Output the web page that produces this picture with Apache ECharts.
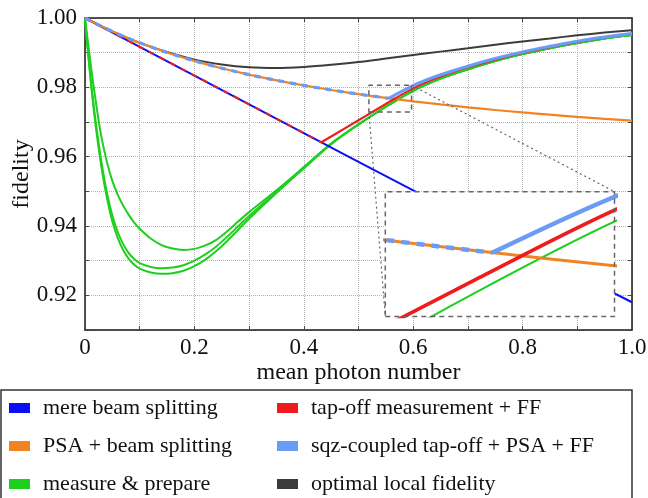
<!DOCTYPE html>
<html><head><meta charset="utf-8">
<script src="https://cdn.jsdelivr.net/npm/echarts/dist/echarts.min.js"></script>
<style>html,body{margin:0;padding:0;background:#fff}#c{width:648px;height:498px}</style>
</head><body><div id="c"></div>
<script>
// ---- tick labels ----
const xTickLabels = ['0','0.2','0.4','0.6','0.8','1.0'];
const yTickLabels = ['0.92','0.94','0.96','0.98','1.00'];
// ---- legend names ----
const legendCol1 = ['mere beam splitting','PSA + beam splitting','measure & prepare'];
const legendCol2 = ['tap-off measurement + FF','sqz-coupled tap-off + PSA + FF','optimal local fidelity'];
// ---- series values [mean photon number, fidelity] ----
const mereBeamSplitting = [[0,1],[0.1,0.9917],[0.2,0.9834],[0.3,0.9751],[0.4,0.9668],[0.5,0.9585],[0.6,0.9503],[0.7,0.9421],[0.8,0.934],[0.9,0.926],[1.0,0.918]];
const psaBeamSplitting = [[0,1],[0.025,0.99797],[0.05,0.99611],[0.075,0.99441],[0.1,0.99284],[0.15,0.99004],[0.2,0.98763],[0.25,0.98552],[0.3,0.98366],[0.35,0.98202],[0.4,0.98055],[0.45,0.97923],[0.5,0.97804],[0.55,0.97695],[0.6,0.97597],[0.65,0.97506],[0.7,0.97423],[0.75,0.97347],[0.8,0.97276],[0.85,0.9721],[0.9,0.97149],[0.95,0.97092],[1.0,0.9704]];
const measurePrepareA = [[0,1],[0.0025,0.9967],[0.005,0.9935],[0.01,0.9872],[0.015,0.9812],[0.02,0.9756],[0.025,0.9704],[0.03,0.9657],[0.04,0.9585],[0.05,0.953],[0.06,0.949],[0.07,0.9458],[0.08,0.9432],[0.09,0.941],[0.1,0.9392],[0.12,0.9364],[0.14,0.9345],[0.16,0.9335],[0.18,0.9331],[0.2,0.9334],[0.22,0.9344],[0.24,0.936],[0.26,0.9385],[0.28,0.9413],[0.3,0.944],[0.35,0.9503],[0.4,0.957],[0.45,0.9638],[0.5,0.9693],[0.55,0.9744],[0.6,0.979],[0.65,0.9825],[0.7,0.9852],[0.75,0.9876],[0.8,0.9896],[0.85,0.9913],[0.9,0.9928],[0.95,0.9941],[1.0,0.9951]];
const measurePrepareB = [[0,1],[0.0025,0.9955],[0.005,0.9912],[0.01,0.9832],[0.015,0.976],[0.02,0.9695],[0.03,0.9585],[0.04,0.9497],[0.05,0.943],[0.06,0.9382],[0.07,0.9347],[0.08,0.9322],[0.09,0.9305],[0.1,0.9293],[0.12,0.9282],[0.14,0.9278],[0.16,0.928],[0.18,0.9287],[0.2,0.93],[0.22,0.9318],[0.24,0.9341],[0.26,0.9369],[0.28,0.9399],[0.3,0.9429],[0.35,0.9499],[0.4,0.9568],[0.45,0.9637],[0.5,0.9693],[0.55,0.9744],[0.6,0.979],[0.65,0.9825],[0.7,0.9852],[0.75,0.9876],[0.8,0.9896],[0.85,0.9913],[0.9,0.9928],[0.95,0.9941],[1.0,0.9951]];
const measurePrepareC = [[0,1],[0.0025,0.9953],[0.005,0.9908],[0.01,0.9825],[0.015,0.975],[0.02,0.9683],[0.03,0.957],[0.04,0.9481],[0.05,0.9413],[0.06,0.9365],[0.07,0.933],[0.08,0.9305],[0.09,0.9288],[0.1,0.9277],[0.12,0.9266],[0.14,0.9262],[0.16,0.9264],[0.18,0.9271],[0.2,0.9284],[0.22,0.9303],[0.24,0.9328],[0.26,0.9357],[0.28,0.9389],[0.3,0.9421],[0.35,0.9495],[0.4,0.9566],[0.45,0.9636],[0.5,0.9693],[0.55,0.9744],[0.6,0.979],[0.65,0.9825],[0.7,0.9852],[0.75,0.9876],[0.8,0.9896],[0.85,0.9913],[0.9,0.9928],[0.95,0.9941],[1.0,0.9951]];
const tapOffBefore = [[0,1],[0.1,0.9917],[0.2,0.9834],[0.3,0.9751],[0.4,0.9668],[0.432,0.96415]];
const tapOffAfter = [[0.432,0.96415],[0.45,0.9658],[0.5,0.9705],[0.55,0.9752],[0.6,0.9797],[0.65,0.9831],[0.7,0.9858],[0.75,0.988],[0.8,0.99],[0.85,0.9916],[0.9,0.9931],[0.95,0.9944],[1.0,0.9954]];
const sqzBefore = [[0,1],[0.025,0.99797],[0.05,0.99611],[0.075,0.99441],[0.1,0.99284],[0.15,0.99004],[0.2,0.98763],[0.25,0.98552],[0.3,0.98366],[0.35,0.98202],[0.4,0.98055],[0.45,0.97923],[0.5,0.97804],[0.55,0.97695],[0.5555,0.97684]];
const sqzAfter = [[0.5555,0.97684],[0.6,0.9805],[0.65,0.9836],[0.7,0.9861],[0.75,0.9883],[0.8,0.9902],[0.85,0.9918],[0.9,0.9933],[0.95,0.9945],[1.0,0.9955]];
const optimalLocal = [[0,1],[0.05,0.99611],[0.1,0.99284],[0.15,0.9902],[0.2,0.988],[0.25,0.9866],[0.3,0.9858],[0.35,0.9856],[0.4,0.9859],[0.45,0.9865],[0.5,0.9873],[0.55,0.9883],[0.6,0.9893],[0.65,0.9903],[0.7,0.9913],[0.75,0.9923],[0.8,0.9932],[0.85,0.9941],[0.9,0.995],[0.95,0.9958],[1.0,0.9965]];
// ---- zoom region and inset placement (data coordinates of main axes) ----
const zoomX = [0.519, 0.597];
const zoomY = [0.9729, 0.9806];
const insetX = [0.549, 0.968];
const insetY = [0.9139, 0.9499];

const FONT = 'Liberation Serif';
const C = {blue:'#0a10f5', orange:'#f28322', green:'#1fcf1f', red:'#ee1c1c', lb:'#6a9cf6', black:'#3c3c3c'};

function labelFor(list, v) {
  for (const s of list) if (Math.abs(parseFloat(s) - v) < 1e-6) return s;
  return '';
}
function ln(name, data, color, width, extra) {
  return Object.assign({
    type:'line', name:name, data:data, symbol:'none', silent:true, smooth:0.3,
    lineStyle:{color:color, width:width, type:'solid'}, itemStyle:{color:color},
    xAxisIndex:0, yAxisIndex:0, z:2
  }, extra || {});
}
const axisLineStyle = {color:'#1a1a1a', width:1.5};
const tickStyle = {show:true, inside:true, length:4, lineStyle:{color:'#444', width:1}};
const splitStyle = {show:true, lineStyle:{color:'#b3b3b3', type:'dotted', width:1}};

const chart = echarts.init(document.getElementById('c'));
const legendBase = {
  orient:'vertical', top:397, itemWidth:21, itemHeight:10, itemGap:16, icon:'rect',
  padding:0, selectedMode:false,
  textStyle:{fontFamily:FONT, fontSize:22, color:'#111', lineHeight:22, padding:[0,0,0,8]}
};
const inset = {xAxisIndex:2, yAxisIndex:2, z:10, smooth:0.3};
const option = {
  animation:false,
  grid:[
    {left:85, top:18, width:547, height:312, containLabel:false, outerBoundsMode:'none'},
    {left:386, top:192, width:229, height:125, show:true, backgroundColor:'#fff', borderWidth:0, z:5, containLabel:false, outerBoundsMode:'none'}
  ],
  xAxis:[
    {gridIndex:0, type:'value', min:0, max:1, interval:0.1, position:'bottom',
     axisLine:{show:true, onZero:false, lineStyle:axisLineStyle}, axisTick:tickStyle,
     axisLabel:{formatter:v => labelFor(xTickLabels, v), fontFamily:FONT, fontSize:23, color:'#111', margin:6},
     splitLine:splitStyle,
     name:'mean photon number', nameLocation:'middle', nameGap:31, nameMoveOverlap:false,
     nameTextStyle:{fontFamily:FONT, fontSize:24, color:'#111'}},
    {gridIndex:0, type:'value', min:0, max:1, interval:0.1, position:'top',
     axisLine:{show:true, onZero:false, lineStyle:axisLineStyle}, axisTick:tickStyle,
     axisLabel:{show:false}, splitLine:{show:false}},
    {gridIndex:1, type:'value', min:zoomX[0], max:zoomX[1], show:false}
  ],
  yAxis:[
    {gridIndex:0, type:'value', min:0.91, max:1.0, interval:0.01, position:'left',
     axisLine:{show:true, onZero:false, lineStyle:axisLineStyle}, axisTick:tickStyle,
     axisLabel:{formatter:v => labelFor(yTickLabels, v), fontFamily:FONT, fontSize:23, color:'#111', margin:8},
     splitLine:splitStyle,
     name:'fidelity', nameLocation:'middle', nameGap:51, nameMoveOverlap:false,
     nameTextStyle:{fontFamily:FONT, fontSize:24, color:'#111'}},
    {gridIndex:0, type:'value', min:0.91, max:1.0, interval:0.01, position:'right',
     axisLine:{show:true, onZero:false, lineStyle:axisLineStyle}, axisTick:tickStyle,
     axisLabel:{show:false}, splitLine:{show:false}},
    {gridIndex:1, type:'value', min:zoomY[0], max:zoomY[1], show:false}
  ],
  legend:[
    Object.assign({}, legendBase, {data:legendCol1, left:9}),
    Object.assign({}, legendBase, {data:legendCol2, left:277})
  ],
  graphic:[
    {type:'rect', shape:{x:1, y:390, width:631, height:120}, style:{fill:'none', stroke:'#333', lineWidth:1.5}}
  ],
  series:[
    ln(legendCol2[2], optimalLocal, C.black, 2),
    ln(legendCol1[2], measurePrepareA, C.green, 2),
    ln(legendCol1[2], measurePrepareB, C.green, 2),
    ln(legendCol1[2], measurePrepareC, C.green, 2),
    ln(legendCol1[0], mereBeamSplitting, C.blue, 2, {smooth:false}),
    ln(legendCol1[1], psaBeamSplitting, C.orange, 2.2),
    ln(legendCol2[0], tapOffAfter, C.red, 2.2),
    ln(legendCol2[0], tapOffBefore, C.red, 2, {smooth:false, lineStyle:{color:C.red, width:2, type:[6,6]}}),
    ln(legendCol2[1], sqzAfter, C.lb, 3.2),
    ln(legendCol2[1], sqzBefore, C.lb, 3.2, {lineStyle:{color:C.lb, width:3.2, type:[6,6]}}),
    // inset (magnified view)
    ln(null, measurePrepareB, C.green, 2, inset),
    ln(null, psaBeamSplitting, C.orange, 3, inset),
    ln(null, tapOffAfter, C.red, 3.6, inset),
    ln(null, sqzAfter, C.lb, 4.5, inset),
    ln(null, sqzBefore, C.lb, 4.5, Object.assign({}, inset, {lineStyle:{color:C.lb, width:4.5, type:[8,7]}})),
    // zoom box, inset frame and connectors
    ln(null, [[zoomX[0],zoomY[0]],[zoomX[1],zoomY[0]],[zoomX[1],zoomY[1]],[zoomX[0],zoomY[1]],[zoomX[0],zoomY[0]]], '#666', 1.5,
       {smooth:false, z:12, lineStyle:{color:'#666', width:1.5, type:[5,4]}}),
    ln(null, [[insetX[0],insetY[0]],[insetX[1],insetY[0]],[insetX[1],insetY[1]],[insetX[0],insetY[1]],[insetX[0],insetY[0]]], '#666', 1.5,
       {smooth:false, z:12, lineStyle:{color:'#666', width:1.5, type:[5,4]}}),
    ln(null, [[zoomX[0],zoomY[0]],[insetX[0],insetY[0]]], '#666', 1.2,
       {smooth:false, z:12, lineStyle:{color:'#666', width:1.2, type:[2,3]}}),
    ln(null, [[zoomX[1],zoomY[1]],[insetX[1],insetY[1]]], '#666', 1.2,
       {smooth:false, z:12, lineStyle:{color:'#666', width:1.2, type:[2,3]}})
  ]
};
chart.setOption(option);
// place the inset grid exactly on the inset frame, using the main axes' scales
const p1 = chart.convertToPixel({xAxisIndex:0, yAxisIndex:0}, [insetX[0], insetY[1]]);
const p2 = chart.convertToPixel({xAxisIndex:0, yAxisIndex:0}, [insetX[1], insetY[0]]);
chart.setOption({grid:[{}, {left:p1[0], top:p1[1], width:p2[0]-p1[0], height:p2[1]-p1[1]}]});
</script>
</body></html>
